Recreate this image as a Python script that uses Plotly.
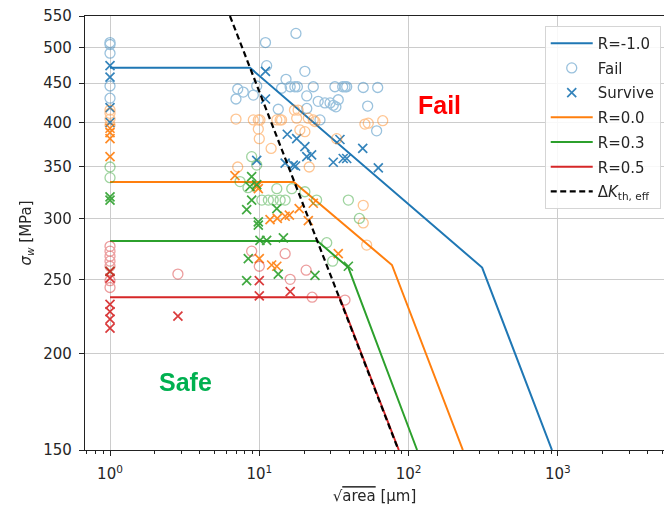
import numpy as np
import plotly.graph_objects as go

# ---------------- data ----------------
# Kitagawa-type model lines: sqrt(area) [um] vs sigma_w [MPa]
line_m10_x = [1, 8.67, 311, 913]
line_m10_y = [471, 471, 259, 150]
line_00_x = [1, 17.0, 77.4, 231]
line_00_y = [334.5, 334.5, 261, 150]
line_03_x = [1, 24.5, 39.5, 114]
line_03_y = [280.5, 280.5, 259, 150]
line_05_x = [1, 34.5, 86]
line_05_y = [237, 237, 150]
dk_x = [6.36, 85.5]
dk_y = [550, 150]

# R = -1.0
fail_m10_x = [1, 1, 1, 1, 1, 17.6, 11.0, 11.2, 20.2, 15.1, 7.17, 6.98, 7.81, 9.12, 9.61,
              14.1, 16.1, 17.3, 18.0, 23.0, 20.8, 24.8, 27.5, 29.8, 31.3, 32.6, 33.8, 32.1,
              36.2, 37.5, 38.5, 49.7, 62.1, 53.2, 61.1, 13.4, 20.8, 25.5]
fail_m10_y = [508, 505, 492, 446, 430, 522, 508, 474, 466, 455, 442, 429, 438, 434, 446,
              443, 445, 445, 445, 445, 433, 426, 424, 424, 421, 419, 428, 445,
              445, 445, 445, 444, 444, 420, 390, 416, 417, 403]
surv_m10_x = [1, 1, 1, 1, 11.0, 11.0, 15.4, 17.8, 20.2, 22.4, 20.8, 9.61, 14.9, 16.9, 17.5,
              31.3, 36.5, 38.5, 34.7, 49.3, 62.7]
surv_m10_y = [474, 458, 418, 400, 466, 429, 386, 381, 372, 363, 361, 357, 354, 352, 351,
              355, 359, 359, 380, 370, 349]

# R = 0.0
fail_00_x = [1, 1, 1, 1, 6.98, 9.12, 9.85, 10.1, 13.1, 13.8, 14.1, 17.2, 18.2, 17.8, 21.3,
             23.0, 23.6, 9.85, 10.0, 12.0, 18.7, 20.2, 33.0, 51.0, 53.7, 67.1, 21.6, 7.17,
             49.7, 49.7, 52.4]
fail_00_y = [415, 411, 404, 397, 404, 403, 403, 403, 403, 403, 403, 415, 415, 405, 405,
             403, 401, 392, 381, 370, 391, 389, 381, 398, 399, 402, 350, 350,
             312, 296, 277]
surv_00_x = [1, 1, 1, 1, 6.87, 9.85, 9.61, 11.8, 13.2, 14.9, 15.9, 18.5, 21.3, 23.0, 10.0,
             12.1, 13.1, 33.8]
surv_00_y = [393, 388, 381, 361, 341, 328, 330, 299, 300, 302, 303, 309, 298, 314, 266,
             261, 260, 270]

# R = 0.3
fail_03_x = [1, 1, 8.89, 9.61, 7.43, 8.40, 13.1, 16.5, 10.4, 11.5, 12.4, 13.8, 14.9, 20.2,
             24.2, 39.5, 46.8, 28.3, 31.0]
fail_03_y = [350, 339, 361, 352, 335, 329, 328, 328, 317, 317, 317, 317, 317, 325,
             317, 317, 300, 279, 264]
surv_03_x = [1, 1, 1, 8.89, 8.66, 9.61, 8.89, 8.23, 13.1, 9.85, 9.85, 10.1, 11.2, 14.5,
             8.44, 13.4, 23.6, 8.23, 39.5]
surv_03_y = [320, 317, 256, 340, 330, 332, 317, 308, 309, 297, 294, 281, 281, 283,
             266, 254, 253, 249, 260]

# R = 0.5
fail_05_x = [1, 1, 1, 1, 1, 1, 1, 2.85, 8.89, 10.0, 14.9, 20.6, 16.1, 22.6, 37.5]
fail_05_y = [276, 272, 268, 264, 260, 249, 244, 254, 272, 260, 270, 257, 250, 237, 235]
surv_05_x = [1, 1, 1, 1, 1, 1, 2.85, 10.0, 10.0, 16.1]
surv_05_y = [256, 251, 232, 227, 222, 216, 224, 249, 238, 241]

x_tick_vals = [1, 10, 100, 1000]
x_tick_text = ["10<sup>0</sup>", "10<sup>1</sup>", "10<sup>2</sup>", "10<sup>3</sup>"]
y_tick_vals = [150, 200, 250, 300, 350, 400, 450, 500, 550]
y_tick_text = [str(v) for v in y_tick_vals]

# ---------------- figure ----------------
C_BLUE, C_ORANGE, C_GREEN, C_RED = "#1f77b4", "#ff7f0e", "#2ca02c", "#d62728"
FONT = "DejaVu Sans"

fig = go.Figure()

groups = [
    ("R=-1.0", C_BLUE, line_m10_x, line_m10_y, fail_m10_x, fail_m10_y, surv_m10_x, surv_m10_y, True),
    ("R=0.0", C_ORANGE, line_00_x, line_00_y, fail_00_x, fail_00_y, surv_00_x, surv_00_y, False),
    ("R=0.3", C_GREEN, line_03_x, line_03_y, fail_03_x, fail_03_y, surv_03_x, surv_03_y, False),
    ("R=0.5", C_RED, line_05_x, line_05_y, fail_05_x, fail_05_y, surv_05_x, surv_05_y, False),
]

for name, col, lx, ly, fx, fy, sx, sy, show_markers in groups:
    fig.add_trace(go.Scatter(x=lx, y=ly, mode="lines", name=name, legendgroup=name + "_line",
                             line=dict(color=col, width=2)))
    fig.add_trace(go.Scatter(x=fx, y=fy, mode="markers", name="Fail", legendgroup=name + "_fail",
                             showlegend=show_markers, opacity=0.45,
                             marker=dict(symbol="circle-open", size=10, color=col,
                                         line=dict(width=1.3, color=col))))
    fig.add_trace(go.Scatter(x=sx, y=sy, mode="markers", name="Survive", legendgroup=name + "_surv",
                             showlegend=show_markers, opacity=0.9,
                             marker=dict(symbol="x-thin", size=9, color=col,
                                         line=dict(width=1.7, color=col))))

fig.add_trace(go.Scatter(x=dk_x, y=dk_y, mode="lines", legendgroup="dk",
                         name="Δ<i>K</i><sub>th, eff</sub>",
                         line=dict(color="black", width=2.2, dash="6px,3.5px")))

minor_vals = [m * 10.0 ** e for e in range(-1, 4) for m in range(2, 10)]

axis_common = dict(showgrid=True, gridcolor="#cccccc", gridwidth=1.2,
                   ticks="outside", ticklen=5, tickwidth=1.2, tickcolor="#222222",
                   showline=True, linecolor="#222222", linewidth=1.2,
                   tickfont=dict(family=FONT, size=15, color="#262626"),
                   zeroline=False)

fig.update_xaxes(type="log", range=[-0.1675, 3.711],
                 tickmode="array", tickvals=x_tick_vals, ticktext=x_tick_text,
                 mirror=True, ticklabelstandoff=5,
                 minor=dict(tickmode="array", tickvals=minor_vals, ticks="outside",
                            ticklen=3, tickwidth=1, tickcolor="#222222", showgrid=False),
                 title=dict(text="√<span style=\"text-decoration:overline\">area</span> [μm]",
                            font=dict(family=FONT, size=15, color="#262626"), standoff=8),
                 **axis_common)
fig.update_yaxes(type="log", range=[np.log10(150), np.log10(550)],
                 tickmode="array", tickvals=y_tick_vals, ticktext=y_tick_text,
                 ticklabelstandoff=4,
                 title=dict(text="<i>σ</i><sub><i>w</i></sub> [MPa]",
                            font=dict(family=FONT, size=15, color="#262626"), standoff=8),
                 **axis_common)

fig.add_annotation(x=np.log10(162), y=np.log10(421), xref="x", yref="y",
                   text="<b>Fail</b>", showarrow=False,
                   font=dict(family="Liberation Sans", size=25, color="#ff0000"))
fig.add_annotation(x=np.log10(3.18), y=np.log10(184), xref="x", yref="y",
                   text="<b>Safe</b>", showarrow=False,
                   font=dict(family="Liberation Sans", size=25, color="#00b050"))

fig.update_layout(
    width=664, height=510,
    margin=dict(l=85, r=0, t=16, b=60, autoexpand=False),
    paper_bgcolor="white", plot_bgcolor="white",
    font=dict(family=FONT, size=15, color="#262626"),
    legend=dict(x=0.794, y=0.977, xanchor="left", yanchor="top",
                bgcolor="rgba(255,255,255,0.85)", bordercolor="#d5d5d5", borderwidth=1,
                font=dict(family=FONT, size=15, color="#262626"),
                tracegroupgap=2.2, itemwidth=42),
)

fig.write_html("out.html")
